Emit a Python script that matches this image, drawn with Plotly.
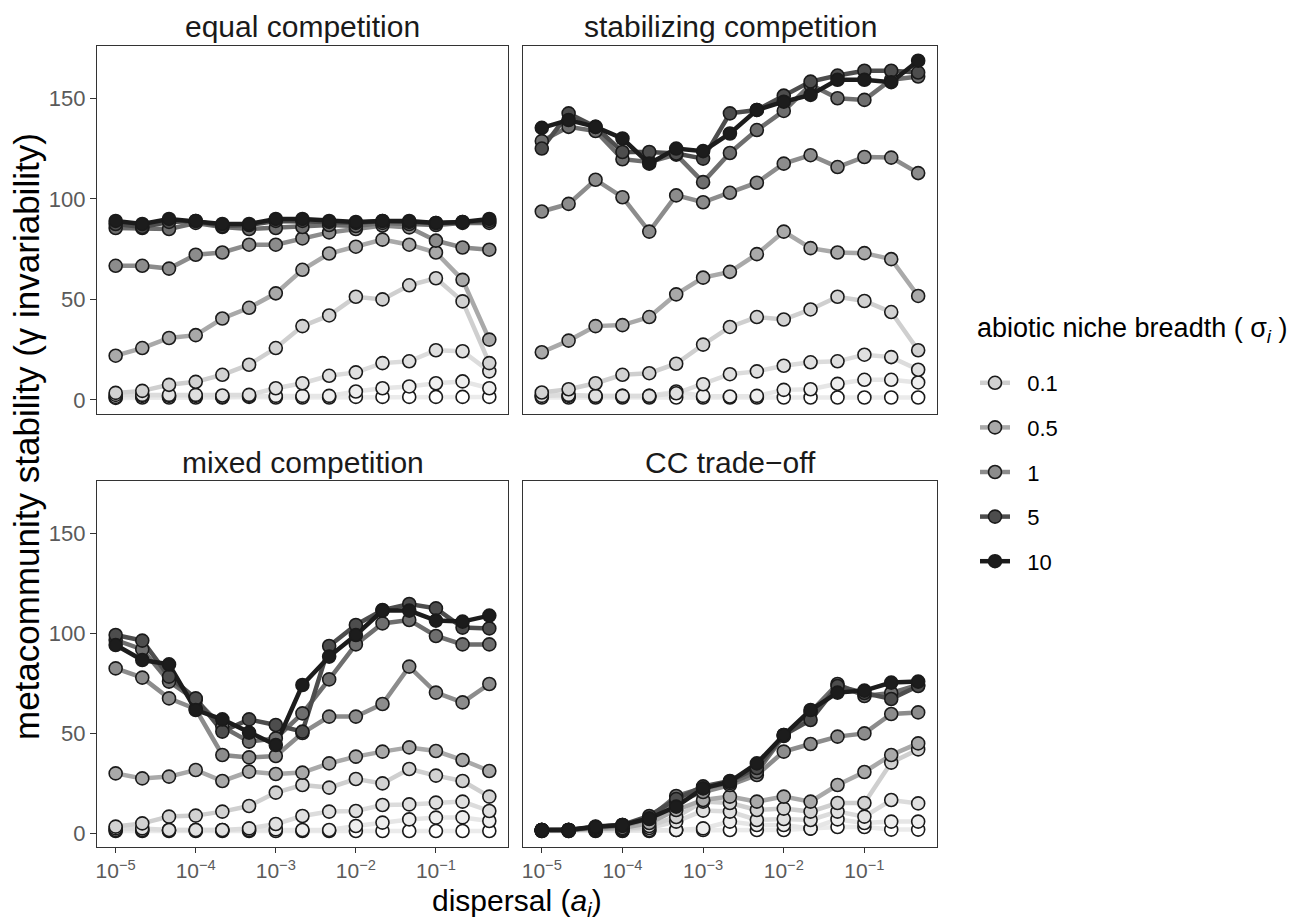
import plotly.graph_objects as go

# ---------------- data ----------------
dispersal = [1e-5, 2.15e-5, 4.64e-5, 1e-4, 2.15e-4, 4.64e-4, 1e-3, 2.15e-3,
             4.64e-3, 1e-2, 2.15e-2, 4.64e-2, 1e-1, 2.15e-1, 4.64e-1]

panels = ["equal competition", "stabilizing competition", "mixed competition", "CC trade\u2212off"]

# niche-breadth levels, lightest to darkest; legend shows the labelled ones
level_labels = [None, None, None, "0.1", "0.5", "1", None, "5", "10"]
level_fill = ["#ffffff", "#eeeeee", "#e0e0e0", "#d2d2d2", "#a9a9a9", "#8c8c8c", "#6e6e6e", "#4d4d4d", "#1c1c1c"]
level_line = ["#ebebeb", "#e6e6e6", "#dcdcdc", "#cfcfcf", "#a9a9a9", "#8c8c8c", "#6e6e6e", "#4d4d4d", "#1c1c1c"]

equal = [
    [1, 1.2, 1.2, 1.2, 1.2, 1.5, 1.2, 1.2, 1.2, 1.5, 1.5, 1.5, 1.5, 1.5, 1.5],
    [1.5, 2, 2, 2, 1.5, 2, 2, 2, 2, 4.2, 5.8, 6.7, 8.3, 9.2, 5.8],
    [2.5, 2.5, 2.5, 2.5, 2.2, 2.5, 5.8, 8.3, 12, 13.7, 18.3, 19.2, 24.7, 24.2, 14.2],
    [3.5, 4.5, 7.5, 9, 12.5, 17.5, 25.8, 36.7, 42, 51.3, 50, 57, 60.5, 49, 18.3],
    [22, 25.8, 30.8, 32.2, 40.5, 45.8, 53, 64.7, 72.8, 76.2, 79.7, 77.2, 73.3, 59.7, 30],
    [66.7, 66.7, 65.3, 72.2, 73.3, 77.2, 77.2, 80.3, 83.3, 85, 86.7, 85.8, 79.2, 75.8, 74.7],
    [85.5, 85.5, 85, 88, 86, 85, 85.5, 86, 87, 86.5, 88, 87.5, 87, 88, 88],
    [87.5, 86, 88.5, 89, 86.5, 87, 89, 89, 88.5, 88, 89, 88.5, 88, 88.5, 89],
    [89, 87.5, 90, 89, 87.5, 87.5, 90, 90, 89, 88.5, 89, 89, 88, 88.5, 90],
]

stabilizing = [
    [1.2, 1.2, 1.2, 1.2, 1.2, 1.2, 1.2, 1.2, 1.2, 1.2, 1.2, 1.2, 1.2, 1.2, 1.2],
    [2.5, 2, 2, 2, 2, 4.2, 2, 1.7, 2, 5, 5.3, 8, 10, 10, 8.7],
    [2, 2.5, 2, 2, 2, 3.3, 7.8, 12.8, 14.2, 17, 18.7, 19.2, 22.5, 21.3, 15],
    [3.7, 5.3, 8.3, 12.5, 13.3, 18, 27.5, 36.3, 41.2, 40, 45, 51.3, 49.2, 43.7, 24.7],
    [23.7, 29.5, 36.7, 37.2, 41.2, 52.5, 60.8, 63.7, 72.5, 83.7, 75.5, 73.3, 73, 70, 51.7],
    [93.7, 97.5, 109.5, 100.8, 83.7, 101.7, 98.3, 103, 108, 117.5, 121.7, 115.8, 120.8, 120.5, 112.8],
    [128.7, 135.8, 133.7, 119.7, 118.3, 122, 108.3, 122.8, 134.2, 143.7, 156.7, 150, 149.2, 159.2, 160.8],
    [125, 142.5, 135.8, 123.3, 123.3, 122.5, 120, 142.5, 144.2, 151.3, 158.3, 161.3, 163.7, 163.7, 162.8],
    [135.3, 139.2, 135.8, 130, 117.5, 125, 123.7, 132.5, 144.2, 148.3, 151.7, 159.2, 159.2, 158, 168.7],
]

mixed = [
    [1, 1, 1, 1, 1, 1, 1, 1, 1, 1, 1, 1, 1, 1, 1],
    [1.5, 1.5, 1.5, 1.5, 1.5, 1.5, 1.8, 1.5, 1.5, 3.5, 5.2, 6.8, 7.7, 7.8, 6],
    [2.3, 2.3, 1.5, 1.5, 1.5, 2.3, 4.5, 8.5, 10.7, 11, 14, 14.3, 15.2, 15.7, 11],
    [3.2, 4.8, 8.2, 8.7, 10.7, 13.5, 20.2, 24, 22.7, 27, 24.8, 32, 28.7, 26, 18.2],
    [29.8, 27.3, 28.2, 31.5, 26, 30.7, 29.5, 30.2, 34.8, 38.2, 40.7, 42.8, 41, 36.5, 31],
    [82.3, 77.7, 67.3, 62, 39, 37.8, 38.5, 50, 58.2, 58.2, 64.5, 83.2, 70.2, 65.3, 74.5],
    [96.5, 91.8, 75.7, 66.5, 53.2, 45.7, 47.3, 59.8, 76.8, 94.3, 104.8, 106.5, 98.5, 94.3, 94.3],
    [99, 96.2, 78.2, 67.3, 50.7, 56.8, 54, 50.7, 93.5, 104, 111.5, 114.5, 112.3, 102.7, 102.3],
    [94, 86.5, 84.3, 61.5, 56.8, 50.2, 44, 74, 88.2, 99, 111.2, 111.2, 106.2, 105.7, 108.7],
]

cc_tradeoff = [
    [1, 1, 1, 1, 1, 1.5, 1.5, 1.5, 1.5, 1.5, 2.2, 3, 3, 1.7, 1.7],
    [1, 1, 1.2, 1.2, 1.5, 1.5, 2.3, 5.7, 4, 4, 2.2, 6.8, 5, 5.7, 5.7],
    [1.2, 1.2, 1.5, 1.5, 2.5, 5.7, 11.2, 10.7, 6.5, 7, 6.5, 10.7, 8.2, 16.5, 14.8],
    [1.5, 1.5, 1.8, 2, 3.5, 8, 15.7, 15, 11.5, 12.2, 10.7, 15, 15, 35.2, 41.8],
    [1.5, 1.5, 2, 2.5, 5, 11.5, 16.5, 18.2, 15.7, 18.2, 15.7, 24, 30.5, 39, 44.8],
    [1.5, 1.5, 2.5, 3.5, 7, 15.5, 20.5, 24, 29, 40.7, 44.5, 48.2, 49.8, 59.5, 60.3],
    [1.5, 1.5, 3, 4, 7.5, 18.5, 22.5, 25, 30.5, 48.5, 60.5, 74.5, 68.5, 70, 74],
    [1.5, 1.5, 3, 4, 8.5, 17, 23.3, 26, 32.5, 49, 56.5, 73.5, 70, 67, 73.5],
    [1.5, 1.5, 3.2, 4, 7.3, 13.2, 22.3, 25.7, 34.8, 49, 61.5, 70.2, 71.2, 75.2, 75.7],
]

panel_data = [equal, stabilizing, mixed, cc_tradeoff]

x_tickvals = [1e-5, 1e-4, 1e-3, 1e-2, 1e-1]
x_ticktext = ["10<sup>\u22125</sup>", "10<sup>\u22124</sup>", "10<sup>\u22123</sup>",
              "10<sup>\u22122</sup>", "10<sup>\u22121</sup>"]
y_tickvals = [0, 50, 100, 150]

# ---------------- figure ----------------
W, H = 1298, 922
OFF = 8  # page body margin of the written html
FONT = "Liberation Sans, Arial, Helvetica, sans-serif"


def fx(px):
    return (px - OFF) / W


def fy(py):
    return (H - (py - OFF)) / H


fig = go.Figure()

axis_ids = ["", "2", "3", "4"]
for p, data in enumerate(panel_data):
    xa = "x" + axis_ids[p]
    ya = "y" + axis_ids[p]
    for lv, ys in enumerate(data):
        fig.add_trace(go.Scatter(
            x=dispersal, y=ys, mode="lines", xaxis=xa, yaxis=ya,
            line=dict(color=level_line[lv], width=4.5),
            showlegend=False, hoverinfo="skip"))
    for lv, ys in enumerate(data):
        fig.add_trace(go.Scatter(
            x=dispersal, y=ys, mode="markers", xaxis=xa, yaxis=ya,
            marker=dict(size=13, color=level_fill[lv], line=dict(color="#1a1a1a", width=1.6)),
            showlegend=False))

# legend keys
for lv, lab in enumerate(level_labels):
    if lab is None:
        continue
    fig.add_trace(go.Scatter(
        x=[None], y=[None], mode="lines+markers", name="\u00a0\u00a0" + lab, legendgroup=lab,
        line=dict(color=level_line[lv], width=4.5),
        marker=dict(size=13, color=level_fill[lv], line=dict(color="#1a1a1a", width=1.6)),
        showlegend=True))

xdom = [[fx(97), fx(508)], [fx(523), fx(937)]]
ydom_top = [fy(414), fy(46)]
ydom_bot = [fy(847), fy(481)]

common_x = dict(type="log", range=[-5.233, -0.1], showgrid=False, zeroline=False,
                showline=True, mirror=True, linecolor="#333333", linewidth=1.3,
                tickvals=x_tickvals, ticktext=x_ticktext)
common_y = dict(range=[-7, 176], showgrid=False, zeroline=False,
                showline=True, mirror=True, linecolor="#333333", linewidth=1.3,
                tickvals=y_tickvals)

tickfont = dict(family=FONT, size=22, color="#5a5a5a")
xtickfont = dict(family=FONT, size=21, color="#5a5a5a")

layout_axes = {}
for p in range(4):
    row = p // 2
    col = p % 2
    xk = "xaxis" + axis_ids[p]
    yk = "yaxis" + axis_ids[p]
    xd = dict(common_x, domain=xdom[col], anchor="y" + axis_ids[p])
    yd = dict(common_y, domain=ydom_top if row == 0 else ydom_bot, anchor="x" + axis_ids[p])
    if row == 1:
        xd.update(ticks="outside", ticklen=5, tickwidth=1.2, tickcolor="#333333",
                  showticklabels=True, tickfont=xtickfont)
    else:
        xd.update(ticks="", showticklabels=False)
    if col == 0:
        yd.update(ticks="outside", ticklen=6, tickwidth=1.2, tickcolor="#333333",
                  showticklabels=True, tickfont=tickfont)
    else:
        yd.update(ticks="", showticklabels=False)
    layout_axes[xk] = xd
    layout_axes[yk] = yd

fig.update_layout(**layout_axes)

annotations = []
strip_pos = [((97 + 508) / 2, 27), ((523 + 937) / 2, 27), ((97 + 508) / 2, 462), ((523 + 937) / 2, 462)]
for p, title in enumerate(panels):
    cx, cy = strip_pos[p]
    annotations.append(dict(text=title, x=fx(cx), y=fy(cy), xref="paper", yref="paper",
                            xanchor="center", yanchor="middle", showarrow=False,
                            font=dict(family=FONT, size=30, color="#1a1a1a")))
annotations.append(dict(text="dispersal (<i>a</i><sub><i>i</i></sub>)", x=fx(517), y=fy(902),
                        xref="paper", yref="paper", xanchor="center", yanchor="middle",
                        showarrow=False, font=dict(family=FONT, size=30, color="#000000")))
annotations.append(dict(text="metacommunity stability (\u03b3 invariability)", x=fx(27), y=fy(437),
                        xref="paper", yref="paper", xanchor="center", yanchor="middle", textangle=-90,
                        showarrow=False, font=dict(family=FONT, size=35, color="#000000")))
annotations.append(dict(text="abiotic niche breadth ( \u03c3<sub><i>i</i></sub> )", x=fx(975), y=fy(330),
                        xref="paper", yref="paper", xanchor="left", yanchor="middle",
                        showarrow=False, font=dict(family=FONT, size=27, color="#000000")))

fig.update_layout(
    width=W, height=H,
    margin=dict(l=0, r=0, t=0, b=0),
    paper_bgcolor="white", plot_bgcolor="white",
    font=dict(family=FONT),
    annotations=annotations,
    showlegend=True,
    legend=dict(
        x=fx(975), y=fy(362), xanchor="left", yanchor="top",
        font=dict(family=FONT, size=22, color="#000000"),
        tracegroupgap=13, itemwidth=30, bgcolor="rgba(0,0,0,0)",
    ),
)

fig.write_html("out.html")
